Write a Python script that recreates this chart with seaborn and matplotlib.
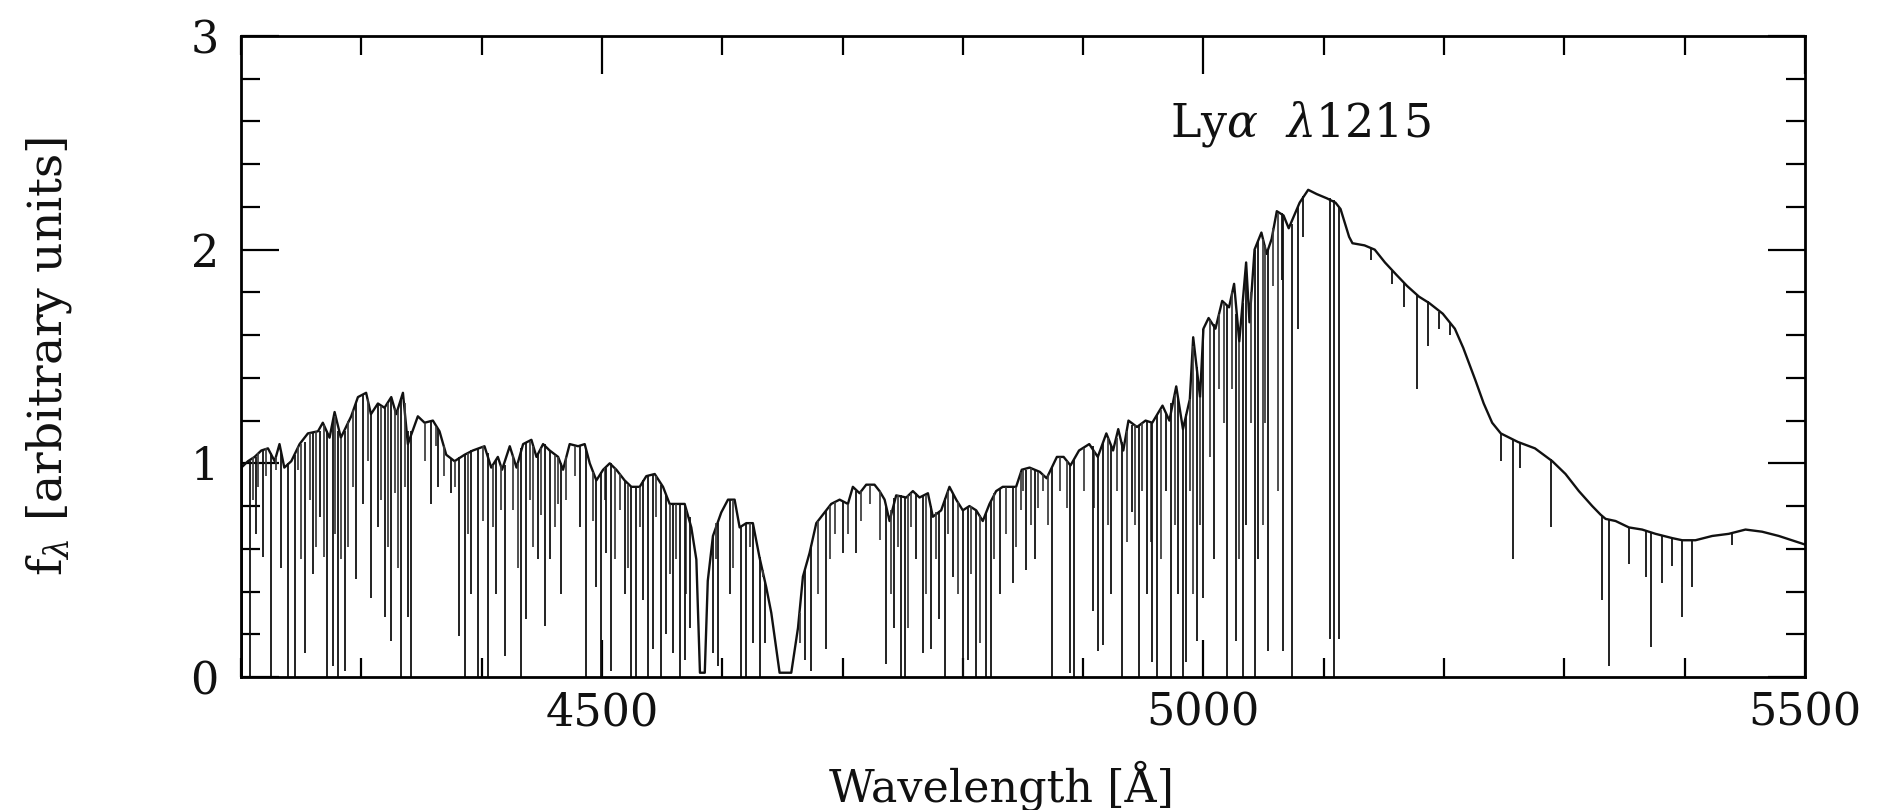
import matplotlib
matplotlib.use("Agg")
import matplotlib.pyplot as plt
from matplotlib.ticker import MultipleLocator
import seaborn as sns
import pandas as pd

# upper envelope of the spectrum (wavelength in A, flux)
cont_wave = [4200.3, 4205.8, 4211.3, 4216.9, 4222.4, 4228.0, 4232.0, 4236.0, 4241.8, 4248.7,
             4255.6, 4264.0, 4268.0, 4273.6, 4277.8, 4283.0, 4291.6, 4297.2, 4304.0, 4308.0,
             4313.8, 4319.3, 4324.9, 4329.0, 4334.6, 4338.7, 4347.0, 4352.6, 4359.5, 4365.0,
             4370.6, 4377.5, 4385.8, 4392.7, 4402.4, 4408.0, 4413.5, 4417.0, 4423.4, 4429.0,
             4434.5, 4441.4, 4445.6, 4451.1, 4456.6, 4463.6, 4467.7, 4473.2, 4480.2, 4485.7,
             4489.9, 4495.4, 4501.0, 4506.5, 4512.0, 4518.9, 4524.5, 4531.4, 4536.9, 4543.9,
             4550.8, 4556.3, 4561.9, 4568.8, 4574.3, 4578.5, 4581.5, 4585.5, 4588.0, 4592.3,
             4599.2, 4604.8, 4610.3, 4614.5, 4620.0, 4625.5, 4631.0, 4636.6, 4640.8, 4647.7,
             4657.4, 4663.0, 4667.1, 4672.6, 4678.2, 4683.7, 4690.6, 4697.6, 4704.5, 4708.6,
             4714.2, 4719.7, 4726.6, 4730.8, 4735.0, 4739.1, 4744.6, 4753.0, 4758.5, 4764.0,
             4771.0, 4775.1, 4782.0, 4788.9, 4794.5, 4800.0, 4805.5, 4811.1, 4816.6, 4822.2,
             4827.7, 4833.2, 4838.8, 4844.3, 4849.0, 4855.5, 4864.0, 4869.7, 4878.2, 4883.8,
             4889.5, 4896.6, 4905.1, 4912.2, 4919.3, 4924.9, 4929.2, 4933.4, 4937.7, 4944.8,
             4951.9, 4957.5, 4966.0, 4971.7, 4977.4, 4983.0, 4988.7, 4991.5, 4997.2, 5000.0,
             5004.3, 5010.0, 5015.6, 5021.3, 5025.5, 5029.8, 5035.5, 5038.3, 5042.5, 5048.2,
             5052.5, 5056.7, 5061.0, 5066.6, 5070.9, 5080.0, 5087.1, 5094.2, 5102.7, 5109.8,
             5114.0, 5121.1, 5123.9, 5133.9, 5142.4, 5150.9, 5160.8, 5169.3, 5179.2, 5187.7,
             5199.0, 5209.0, 5216.0, 5226.0, 5233.0, 5240.0, 5247.2, 5261.4, 5275.6, 5290.0,
             5301.0, 5312.1, 5323.2, 5330.1, 5334.3, 5342.6, 5353.7, 5364.7, 5375.8, 5389.7,
             5398.0, 5409.0, 5422.9, 5436.7, 5450.6, 5464.4, 5478.3, 5489.3, 5500.0]
cont_flux = [0.98, 1.01, 1.03, 1.06, 1.07, 1.01, 1.09, 0.98, 1.01, 1.09,
             1.14, 1.15, 1.19, 1.12, 1.24, 1.12, 1.22, 1.31, 1.33, 1.23,
             1.28, 1.26, 1.31, 1.23, 1.33, 1.09, 1.22, 1.19, 1.20, 1.15,
             1.04, 1.01, 1.04, 1.06, 1.08, 0.98, 1.03, 0.97, 1.08, 0.98,
             1.09, 1.11, 1.03, 1.09, 1.06, 1.03, 0.97, 1.09, 1.08, 1.09,
             1.00, 0.92, 0.97, 1.00, 0.97, 0.92, 0.89, 0.89, 0.94, 0.95,
             0.89, 0.81, 0.81, 0.81, 0.70, 0.55, 0.02, 0.02, 0.45, 0.66,
             0.77, 0.83, 0.83, 0.70, 0.72, 0.72, 0.56, 0.42, 0.30, 0.02,
             0.02, 0.23, 0.47, 0.58, 0.72, 0.76, 0.81, 0.83, 0.81, 0.89,
             0.86, 0.90, 0.90, 0.87, 0.83, 0.73, 0.85, 0.84, 0.87, 0.84,
             0.86, 0.75, 0.78, 0.89, 0.83, 0.78, 0.80, 0.78, 0.73, 0.81,
             0.87, 0.89, 0.89, 0.89, 0.97, 0.98, 0.96, 0.93, 1.03, 1.03,
             0.99, 1.06, 1.09, 1.03, 1.14, 1.06, 1.16, 1.06, 1.20, 1.17,
             1.20, 1.19, 1.27, 1.20, 1.36, 1.16, 1.30, 1.59, 1.31, 1.63,
             1.68, 1.63, 1.76, 1.73, 1.84, 1.57, 1.94, 1.66, 2.00, 2.08,
             1.98, 2.05, 2.18, 2.16, 2.10, 2.22, 2.28, 2.26, 2.24, 2.22,
             2.19, 2.06, 2.03, 2.02, 2.00, 1.94, 1.88, 1.83, 1.78, 1.75,
             1.70, 1.63, 1.54, 1.39, 1.28, 1.19, 1.14, 1.10, 1.07, 1.01,
             0.95, 0.87, 0.80, 0.76, 0.74, 0.73, 0.70, 0.69, 0.67, 0.65,
             0.64, 0.64, 0.66, 0.67, 0.69, 0.68, 0.66, 0.64, 0.62]

# strong absorption lines: centre, bottom of the dip, local top
line_wave = [4201.0, 4207.2, 4212.7, 4218.3, 4225.2, 4233.5, 4239.0, 4244.6, 4252.9, 4259.8,
             4265.3, 4271.7, 4276.4, 4280.6, 4286.1, 4295.8, 4301.3, 4308.3, 4313.8, 4319.3,
             4324.9, 4333.2, 4338.7, 4341.5, 4358.1, 4363.6, 4374.7, 4381.6, 4385.8, 4391.3,
             4396.9, 4405.2, 4412.1, 4419.3, 4433.1, 4437.3, 4446.9, 4452.5, 4456.6, 4466.3,
             4481.6, 4487.1, 4495.4, 4499.6, 4503.7, 4507.9, 4518.9, 4524.5, 4528.6, 4534.2,
             4538.3, 4542.5, 4549.4, 4553.6, 4559.1, 4564.6, 4568.8, 4572.9, 4592.3, 4596.5,
             4606.2, 4615.9, 4620.0, 4625.5, 4631.0, 4635.3, 4668.5, 4674.0, 4686.5, 4700.3,
             4711.4, 4736.3, 4743.2, 4748.8, 4751.6, 4761.2, 4766.8, 4773.7, 4780.6, 4784.8,
             4791.7, 4800.0, 4804.2, 4811.1, 4819.4, 4823.5, 4830.5, 4841.5, 4852.6, 4859.8,
             4873.9, 4889.5, 4892.3, 4907.9, 4912.2, 4916.4, 4923.5, 4932.0, 4940.5, 4946.2,
             4953.3, 4957.5, 4961.8, 4968.9, 4973.1, 4978.8, 4983.0, 4985.9, 4994.4, 5000.0,
             5008.5, 5019.9, 5027.0, 5032.6, 5035.5, 5042.5, 5045.4, 5053.9, 5065.2, 5066.5,
             5073.5, 5078.6, 5082.8, 5105.5, 5108.3, 5112.6, 5139.5, 5156.5, 5166.4, 5177.8,
             5186.3, 5196.2, 5204.7, 5247.2, 5257.1, 5262.8, 5289.0, 5331.5, 5337.0, 5353.7,
             5367.5, 5371.7, 5381.4, 5389.7, 5398.0, 5406.3, 5439.5]
line_bottom = [0.00, 0.00, 0.67, 0.56, 0.00, 0.51, 0.00, 0.00, 0.11, 0.48,
               0.75, 0.00, 0.05, 0.00, 0.03, 0.46, 0.81, 0.37, 0.70, 0.28,
               0.17, 0.00, 0.28, 0.00, 0.81, 0.89, 0.86, 0.19, 0.00, 0.39,
               0.00, 0.00, 0.39, 0.10, 0.00, 0.27, 0.55, 0.24, 0.55, 0.39,
               0.70, 0.00, 0.42, 0.00, 0.58, 0.03, 0.39, 0.00, 0.00, 0.36,
               0.00, 0.13, 0.00, 0.20, 0.11, 0.00, 0.08, 0.23, 0.11, 0.05,
               0.39, 0.00, 0.00, 0.16, 0.00, 0.16, 0.08, 0.03, 0.13, 0.58,
               0.58, 0.06, 0.23, 0.00, 0.00, 0.55, 0.11, 0.13, 0.27, 0.00,
               0.47, 0.00, 0.08, 0.00, 0.00, 0.00, 0.39, 0.44, 0.50, 0.55,
               0.00, 0.02, 0.00, 0.31, 0.12, 0.15, 0.39, 0.00, 0.77, 0.00,
               0.39, 0.07, 0.00, 0.87, 0.00, 0.39, 0.00, 0.07, 0.17, 0.37,
               0.55, 0.00, 0.17, 0.00, 0.71, 0.00, 0.55, 0.12, 1.86, 0.12,
               0.00, 1.63, 2.06, 0.18, 0.00, 0.18, 1.95, 1.84, 1.73, 1.35,
               1.55, 1.63, 1.60, 1.01, 0.55, 0.98, 0.70, 0.36, 0.05, 0.53,
               0.47, 0.14, 0.44, 0.52, 0.28, 0.42, 0.62]
line_top = [0.98, 1.01, 1.03, 1.06, 1.05, 1.05, 1.00, 1.04, 1.10, 1.14,
            1.15, 1.15, 1.20, 1.15, 1.15, 1.28, 1.32, 1.24, 1.28, 1.26,
            1.30, 1.30, 1.15, 1.15, 1.20, 1.16, 1.02, 1.03, 1.04, 1.06,
            1.07, 1.05, 1.02, 0.99, 1.07, 1.10, 1.05, 1.09, 1.06, 1.00,
            1.08, 1.06, 0.93, 0.96, 0.98, 1.00, 0.92, 0.89, 0.89, 0.92,
            0.94, 0.95, 0.90, 0.85, 0.81, 0.81, 0.81, 0.75, 0.66, 0.72,
            0.83, 0.70, 0.72, 0.72, 0.56, 0.45, 0.50, 0.62, 0.78, 0.82,
            0.87, 0.80, 0.84, 0.85, 0.84, 0.86, 0.85, 0.80, 0.77, 0.84,
            0.86, 0.78, 0.79, 0.78, 0.77, 0.82, 0.88, 0.89, 0.97, 0.97,
            0.98, 0.99, 1.02, 1.08, 1.03, 1.10, 1.08, 1.10, 1.18, 1.18,
            1.20, 1.19, 1.23, 1.23, 1.28, 1.30, 1.16, 1.23, 1.45, 1.63,
            1.65, 1.74, 1.70, 1.75, 1.94, 2.00, 2.04, 2.00, 2.17, 2.16,
            2.12, 2.20, 2.25, 2.24, 2.23, 2.20, 2.01, 1.90, 1.85, 1.79,
            1.76, 1.71, 1.66, 1.14, 1.11, 1.10, 1.02, 0.76, 0.74, 0.70,
            0.69, 0.68, 0.66, 0.65, 0.64, 0.64, 0.67]

# weaker, partly blended lines of the forest (drawn a little lighter)
weak_wave = [4210.0, 4214.0, 4221.0, 4229.0, 4247.3, 4250.0, 4257.0, 4262.6, 4269.0, 4278.0,
             4283.3, 4289.0, 4293.0, 4305.5, 4316.6, 4322.0, 4327.6, 4330.4, 4336.0, 4352.6,
             4362.0, 4369.0, 4377.5, 4388.6, 4401.0, 4409.3, 4416.0, 4426.0, 4430.3, 4440.0,
             4442.8, 4449.7, 4460.8, 4463.6, 4470.5, 4477.4, 4492.6, 4502.3, 4510.6, 4514.8,
             4521.7, 4531.4, 4545.2, 4556.3, 4561.9, 4570.2, 4595.0, 4609.0, 4622.8, 4633.9,
             4664.3, 4679.6, 4689.3, 4693.4, 4704.5, 4715.6, 4722.5, 4730.8, 4740.5, 4746.0,
             4754.3, 4757.1, 4769.6, 4777.9, 4787.5, 4795.9, 4806.9, 4813.9, 4826.3, 4836.0,
             4844.3, 4848.5, 4849.8, 4856.9, 4862.6, 4866.8, 4871.1, 4881.0, 4886.7, 4900.8,
             4909.3, 4920.7, 4927.8, 4936.3, 4943.4, 4949.0, 4956.1, 4964.6, 4976.0, 4988.7,
             4991.5, 4997.2, 5005.7, 5012.8, 5017.0, 5024.1, 5029.8, 5039.7, 5049.6, 5051.0,
             5058.1, 5062.4]
weak_bottom = [0.83, 0.89, 0.94, 0.97, 0.97, 0.55, 0.83, 0.61, 0.56, 0.67,
               0.55, 0.61, 0.89, 1.01, 0.83, 0.61, 0.86, 0.51, 0.89, 1.01,
               1.08, 0.94, 0.89, 0.67, 0.73, 0.70, 0.78, 0.78, 0.51, 0.83,
               0.61, 0.76, 0.70, 0.81, 0.83, 0.94, 0.73, 0.83, 0.55, 0.78,
               0.51, 0.70, 0.75, 0.48, 0.55, 0.39, 0.55, 0.51, 0.61, 0.47,
               0.16, 0.39, 0.55, 0.67, 0.67, 0.73, 0.81, 0.64, 0.39, 0.61,
               0.23, 0.70, 0.39, 0.55, 0.67, 0.39, 0.48, 0.16, 0.55, 0.67,
               0.61, 0.78, 0.87, 0.71, 0.79, 0.87, 0.71, 0.87, 0.79, 0.87,
               0.79, 0.71, 0.87, 0.63, 0.71, 0.87, 0.63, 0.55, 0.71, 0.87,
               0.39, 0.71, 1.03, 1.35, 1.19, 1.35, 0.55, 1.19, 0.71, 1.19,
               1.83, 0.87]
weak_top = [1.03, 1.05, 1.07, 1.03, 1.08, 1.09, 1.14, 1.15, 1.18, 1.22,
            1.12, 1.20, 1.25, 1.30, 1.27, 1.28, 1.26, 1.25, 1.28, 1.19,
            1.17, 1.08, 1.01, 1.05, 1.08, 0.99, 0.99, 1.04, 1.00, 1.10,
            1.08, 1.07, 1.04, 1.03, 1.03, 1.08, 0.96, 0.98, 0.98, 0.95,
            0.90, 0.89, 0.94, 0.81, 0.81, 0.78, 0.72, 0.83, 0.72, 0.50,
            0.30, 0.73, 0.80, 0.82, 0.81, 0.87, 0.90, 0.87, 0.78, 0.85,
            0.85, 0.86, 0.85, 0.77, 0.87, 0.82, 0.80, 0.76, 0.86, 0.89,
            0.89, 0.96, 0.97, 0.98, 0.96, 0.95, 0.95, 1.03, 1.01, 1.07,
            1.06, 1.12, 1.12, 1.15, 1.18, 1.19, 1.19, 1.25, 1.32, 1.30,
            1.55, 1.31, 1.67, 1.70, 1.75, 1.80, 1.57, 1.80, 2.05, 2.02,
            2.10, 2.17]

x_major = [4500, 5000, 5500]
y_major = [0, 1, 2, 3]
label_text = r"Ly$\alpha$  $\lambda$1215"
label_pos = (4972, 2.59)

sns.set_theme(style="ticks")
plt.rcParams["font.family"] = ["DejaVu Serif"]
plt.rcParams["mathtext.fontset"] = "dejavuserif"

fig = plt.figure(figsize=(18.77, 8.10), dpi=100)
ax = fig.add_axes([0.1284, 0.1642, 0.8332, 0.7914])

spec = pd.DataFrame({"wave": cont_wave, "flux": cont_flux})
sns.lineplot(data=spec, x="wave", y="flux", ax=ax, color="#111111", lw=1.7,
             estimator=None)
ax.vlines(weak_wave, weak_bottom, weak_top, color="#3a3a3a", lw=1.25)
ax.vlines(line_wave, line_bottom, line_top, color="#111111", lw=1.3)

ax.set_xlim(4200, 5500)
ax.set_ylim(0, 3)
ax.set_xticks(x_major)
ax.set_yticks(y_major)
ax.xaxis.set_minor_locator(MultipleLocator(100))
ax.yaxis.set_minor_locator(MultipleLocator(0.2))
ax.tick_params(which="both", direction="in", top=True, right=True,
               width=1.6, color="black", labelsize=32, labelcolor="#111111")
ax.tick_params(which="major", length=27)
ax.tick_params(which="minor", length=13.5)
ax.tick_params(axis="x", pad=10)
ax.tick_params(axis="y", pad=16)
for s in ax.spines.values():
    s.set_linewidth(2.0)
    s.set_color("black")

ax.set_xlabel(r"Wavelength [Å]", fontsize=32, color="#111111")
ax.set_ylabel(r"f$_\lambda$ [arbitrary units]", fontsize=34, color="#111111")
ax.xaxis.set_label_coords(0.486, -0.13)
ax.yaxis.set_label_coords(-0.107, 0.5)

ax.text(label_pos[0], label_pos[1], label_text, fontsize=33, ha="left", va="center",
        color="#111111")

fig.savefig("out.png", dpi=100)
